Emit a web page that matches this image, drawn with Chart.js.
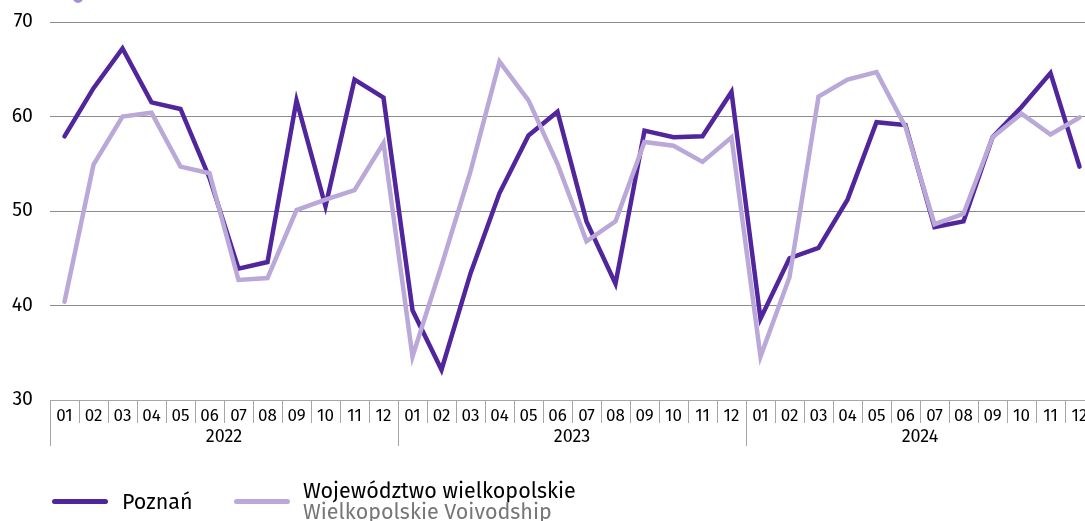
<!DOCTYPE html>
<html>
<head>
<meta charset="utf-8">
<script src="https://cdn.jsdelivr.net/npm/chart.js@4/dist/chart.umd.min.js"></script>
<style>
  html, body { margin: 0; padding: 0; background: #fff; overflow: hidden; width: 1085px; height: 521px; }
  #wrap { position: relative; width: 1100px; height: 521px; }
  #c { position: absolute; left: 0; top: 0; }
  .lg { position: absolute; font-family: "Fira Sans", "Open Sans", sans-serif; font-size: 21.5px; color: #000; white-space: nowrap; }
  .sw { position: absolute; height: 5px; width: 56px; border-radius: 3px; }
  #dot { position: absolute; left: 73px; top: -7px; width: 10px; height: 10px; border-radius: 50%; background: #a58fd2; }
</style>
</head>
<body>
<div id="wrap">
  <canvas id="c" width="1100" height="521"></canvas>
  <div id="dot"></div>
  <div class="sw" style="left:52px; top:499px; background:#51259b;"></div>
  <div class="lg" style="left:122px; top:488px; line-height:28px;">Poznań</div>
  <div class="sw" style="left:234px; top:499px; background:#baa8d8;"></div>
  <div class="lg" style="left:303px; top:481px; line-height:20.5px;">Województwo wielkopolskie<br><span style="color:#767676">Wielkopolskie Voivodship</span></div>
</div>
<script>
const years = ['2022', '2023', '2024'];
const months = ['01','02','03','04','05','06','07','08','09','10','11','12'];
const poznan = [57.9,63.0,67.2,61.5,60.8,53.5,43.9,44.6,61.7,50.5,63.9,62.0,
                39.5,33.2,43.4,51.9,58.0,60.5,48.9,42.3,58.5,57.8,57.9,62.6,
                38.6,45.0,46.1,51.2,59.4,59.1,48.3,48.9,57.8,61.0,64.6,54.7];
const wielkopolskie = [40.4,54.9,60.0,60.4,54.7,54.0,42.7,42.9,50.1,51.2,52.2,57.2,
                       34.6,44.2,54.2,65.8,61.7,55.0,46.8,48.9,57.3,56.9,55.2,57.8,
                       34.6,43.0,62.1,63.9,64.7,58.9,48.6,49.7,57.8,60.3,58.1,59.9];
const yTicks = [30, 40, 50, 60, 70];

const labels = [];
years.forEach(y => months.forEach(m => labels.push(y + '-' + m)));

const FONT = '"Fira Sans", "Open Sans", sans-serif';

const xAxisPlugin = {
  id: 'xAxisPlugin',
  afterDraw(chart) {
    const ctx = chart.ctx;
    const x = chart.scales.x;
    const top = chart.chartArea.bottom;
    const n = labels.length;
    const half = (x.getPixelForValue(1) - x.getPixelForValue(0)) / 2;
    ctx.save();
    ctx.strokeStyle = '#a6a6a6';
    ctx.lineWidth = 1;
    ctx.beginPath();
    ctx.moveTo(chart.chartArea.left, top + 0.5);
    ctx.lineTo(chart.chartArea.right, top + 0.5);
    ctx.stroke();
    for (let i = 0; i <= n; i++) {
      const px = Math.round(x.getPixelForValue(i) - half) + 0.5;
      const isYear = i % months.length === 0;
      ctx.beginPath();
      ctx.moveTo(px, top);
      ctx.lineTo(px, top + (isYear ? 46 : 23));
      ctx.stroke();
    }
    ctx.fillStyle = '#000';
    ctx.textAlign = 'center';
    ctx.textBaseline = 'middle';
    ctx.font = '17px ' + FONT;
    for (let i = 0; i < n; i++) {
      ctx.fillText(months[i % months.length], x.getPixelForValue(i), top + 16);
    }
    ctx.font = '18px ' + FONT;
    years.forEach((y, k) => {
      const a = x.getPixelForValue(k * months.length) - half;
      const b = x.getPixelForValue((k + 1) * months.length - 1) + half;
      ctx.fillText(y, (a + b) / 2, top + 37);
    });
    ctx.restore();
  }
};

new Chart(document.getElementById('c'), {
  type: 'line',
  data: {
    labels: labels,
    datasets: [
      { label: 'Województwo wielkopolskie', data: wielkopolskie, borderColor: '#baa8d8', borderWidth: 4.5, pointRadius: 0, order: 0, borderCapStyle: 'round', tension: 0 },
      { label: 'Poznań', data: poznan, borderColor: '#51259b', borderWidth: 4.5, pointRadius: 0, order: 1, borderCapStyle: 'round', tension: 0 }
    ]
  },
  options: {
    responsive: false,
    animation: false,
    layout: { padding: { top: 22, right: 6, bottom: 71, left: 0 } },
    plugins: { legend: { display: false }, tooltip: { enabled: false } },
    scales: {
      x: {
        type: 'category',
        offset: true,
        grid: { display: false },
        border: { display: false },
        ticks: { display: false },
        afterFit(s) { s.height = 50; }
      },
      y: {
        min: 30, max: 70,
        afterBuildTicks(s) { s.ticks = yTicks.map(v => ({ value: v })); },
        afterFit(s) { s.width = 50; s.paddingTop = 0; s.paddingBottom = 0; },
        grid: {
          drawTicks: false,
          color: ctx => ctx.tick && ctx.tick.value === 30 ? 'rgba(0,0,0,0)' : '#8c8c8c',
          lineWidth: 1
        },
        border: { display: false },
        ticks: { color: '#000', font: { size: 19.5, family: FONT }, padding: 17 }
      }
    }
  },
  plugins: [xAxisPlugin]
});
</script>
</body>
</html>
